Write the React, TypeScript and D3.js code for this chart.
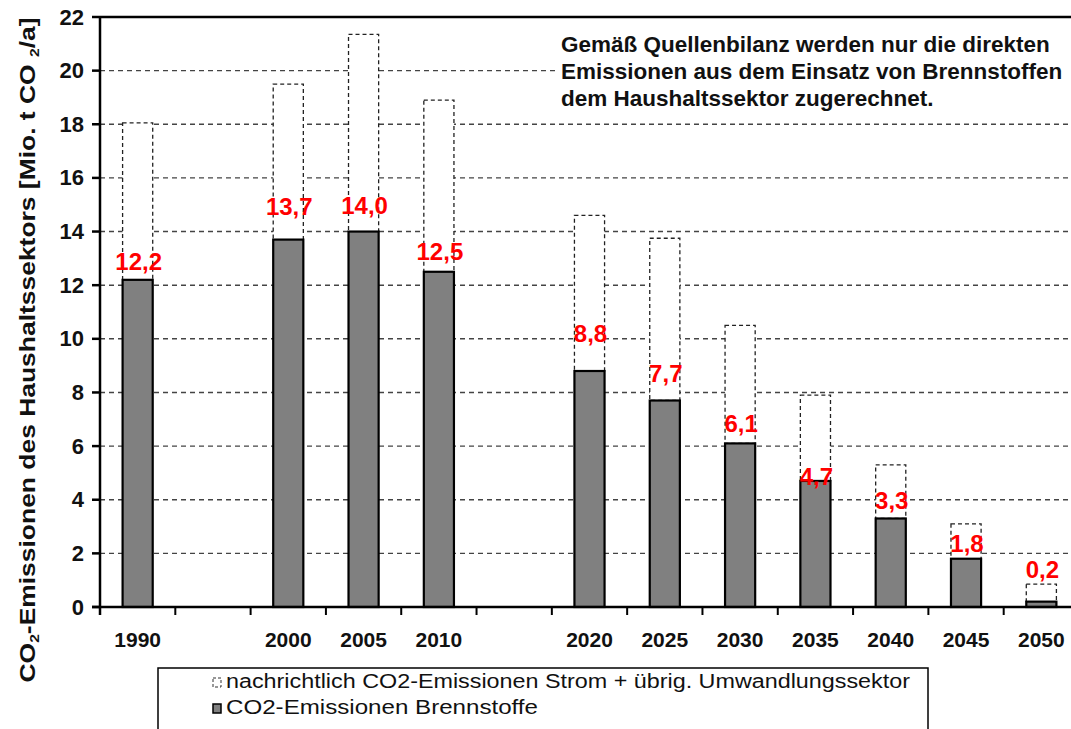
import React from 'react';
import * as d3 from 'd3';

const slots = ['1990', '1995', '2000', '2005', '2010', '2015', '2020', '2025', '2030', '2035', '2040', '2045', '2050'];
const years = ['1990', '2000', '2005', '2010', '2020', '2025', '2030', '2035', '2040', '2045', '2050'];
const brennstoffe = [12.2, 13.7, 14.0, 12.5, 8.8, 7.7, 6.1, 4.7, 3.3, 1.8, 0.2];
const strom = [5.85, 5.8, 7.35, 6.4, 5.8, 6.05, 4.4, 3.2, 2.0, 1.3, 0.65];
const valueLabels = ['12,2', '13,7', '14,0', '12,5', '8,8', '7,7', '6,1', '4,7', '3,3', '1,8', '0,2'];
const labelLift = [10, 25, 18, 12, 29, 19, 11, -4, 10, 7, 24];
const yTicks = [0, 2, 4, 6, 8, 10, 12, 14, 16, 18, 20, 22];
const legendItems = ['nachrichtlich CO2-Emissionen Strom + übrig. Umwandlungssektor', 'CO2-Emissionen Brennstoffe'];
const legendWidths = [684, 312];
const noteLines = ['Gemäß Quellenbilanz werden nur die direkten', 'Emissionen aus dem Einsatz von Brennstoffen', 'dem Haushaltssektor zugerechnet.'];

const W = 1071;
const H = 729;
const left = 100;
const right = 1079;
const top = 17;
const bottom = 607;
const font = 'Liberation Sans, Arial, sans-serif';

export default function App() {
  const x = d3.scaleBand<string>().domain(slots).range([left, right]).paddingInner(0.6).paddingOuter(0.3);
  const y = d3.scaleLinear().domain([0, 22]).range([bottom, top]);
  const step = x.step();
  const bw = x.bandwidth();

  const data = years.map((yr, i) => ({ yr, a: brennstoffe[i], b: strom[i], label: valueLabels[i], lift: labelLift[i] }));
  const stack = d3.stack<any>().keys(['a', 'b'])(data as any);

  return (
    <svg width={W} height={H} style={{ position: 'absolute', left: 0, top: 0, background: '#fff' }} fontFamily={font}>
      <rect x={0} y={0} width={W} height={H} fill="#fff" />
      {/* gridlines */}
      {yTicks.filter(t => t > 0 && t < 22).map(t => (
        <line key={t} x1={left} x2={right} y1={y(t)} y2={y(t)} stroke="#444" strokeWidth={1.4} strokeDasharray="5,4" />
      ))}
      {/* annotation background */}
      <rect x={555} y={30} width={W - 555} height={84} fill="#fff" />
      {noteLines.map((l, i) => (
        <text key={l} x={561} y={52 + i * 27} fontSize={22.5} fontWeight="bold" fill="#111">{l}</text>
      ))}
      {/* bars */}
      {stack[1].map((d: any, i: number) => {
        const x0 = x(data[i].yr)!;
        return (
          <rect key={'b' + i} x={x0} y={y(d[1])} width={bw} height={y(d[0]) - y(d[1])} fill="#fff" stroke="#222" strokeWidth={1.3} strokeDasharray="4,3" />
        );
      })}
      {stack[0].map((d: any, i: number) => {
        const x0 = x(data[i].yr)!;
        return (
          <rect key={'a' + i} x={x0} y={y(d[1])} width={bw} height={y(d[0]) - y(d[1])} fill="#808080" stroke="#000" strokeWidth={2.2} />
        );
      })}
      {/* axes */}
      <line x1={left} x2={right} y1={top} y2={top} stroke="#000" strokeWidth={2.5} />
      <line x1={left} x2={left} y1={top - 1} y2={bottom + 8} stroke="#000" strokeWidth={2.5} />
      <line x1={left - 8} x2={right} y1={bottom} y2={bottom} stroke="#000" strokeWidth={2.5} />
      {yTicks.map(t => (
        <g key={'yt' + t}>
          <line x1={left - 8} x2={left} y1={y(t)} y2={y(t)} stroke="#000" strokeWidth={2.5} />
          <text x={84} y={y(t) + 7.5} textAnchor="end" fontSize={22} fontWeight="bold" fill="#111">{t}</text>
        </g>
      ))}
      {slots.map(s => (
        <line key={'xt' + s} x1={x(s)! - (step - bw) / 2} x2={x(s)! - (step - bw) / 2} y1={bottom} y2={bottom + 8} stroke="#000" strokeWidth={2} />
      ))}
      {years.map(yr => (
        <text key={'xl' + yr} x={x(yr)! + bw / 2} y={647} textAnchor="middle" fontSize={21} fontWeight="bold" fill="#111">{yr}</text>
      ))}
      {/* value labels */}
      {data.map((d, i) => (
        <text key={'v' + i} x={x(d.yr)! + bw / 2 + 1} y={y(d.a) - d.lift} textAnchor="middle" fontSize={24} fontWeight="bold" fill="#ff0000">{d.label}</text>
      ))}
      {/* y title */}
      <text transform="translate(35,350) rotate(-90)" textAnchor="middle" fontSize={22} fontWeight="bold" fill="#111" textLength={665} lengthAdjust="spacingAndGlyphs">
        CO<tspan fontSize={13} dy={4}>2</tspan><tspan dy={-4}>-Emissionen des Haushaltssektors [Mio. t CO </tspan><tspan fontSize={13} dy={4}>2</tspan><tspan dy={-4}>/a]</tspan>
      </text>
      {/* legend */}
      <rect x={158} y={668} width={770} height={80} fill="#fff" stroke="#000" strokeWidth={1.5} />
      <rect x={213} y={678} width={8} height={9} fill="#fff" stroke="#333" strokeWidth={1} strokeDasharray="3,2" />
      <rect x={213} y={704} width={8} height={9} fill="#808080" stroke="#000" strokeWidth={1.5} />
      {legendItems.map((l, i) => (
        <text key={l} x={226} y={688 + i * 26} fontSize={20} fill="#111" textLength={legendWidths[i]} lengthAdjust="spacingAndGlyphs">{l}</text>
      ))}
    </svg>
  );
}
